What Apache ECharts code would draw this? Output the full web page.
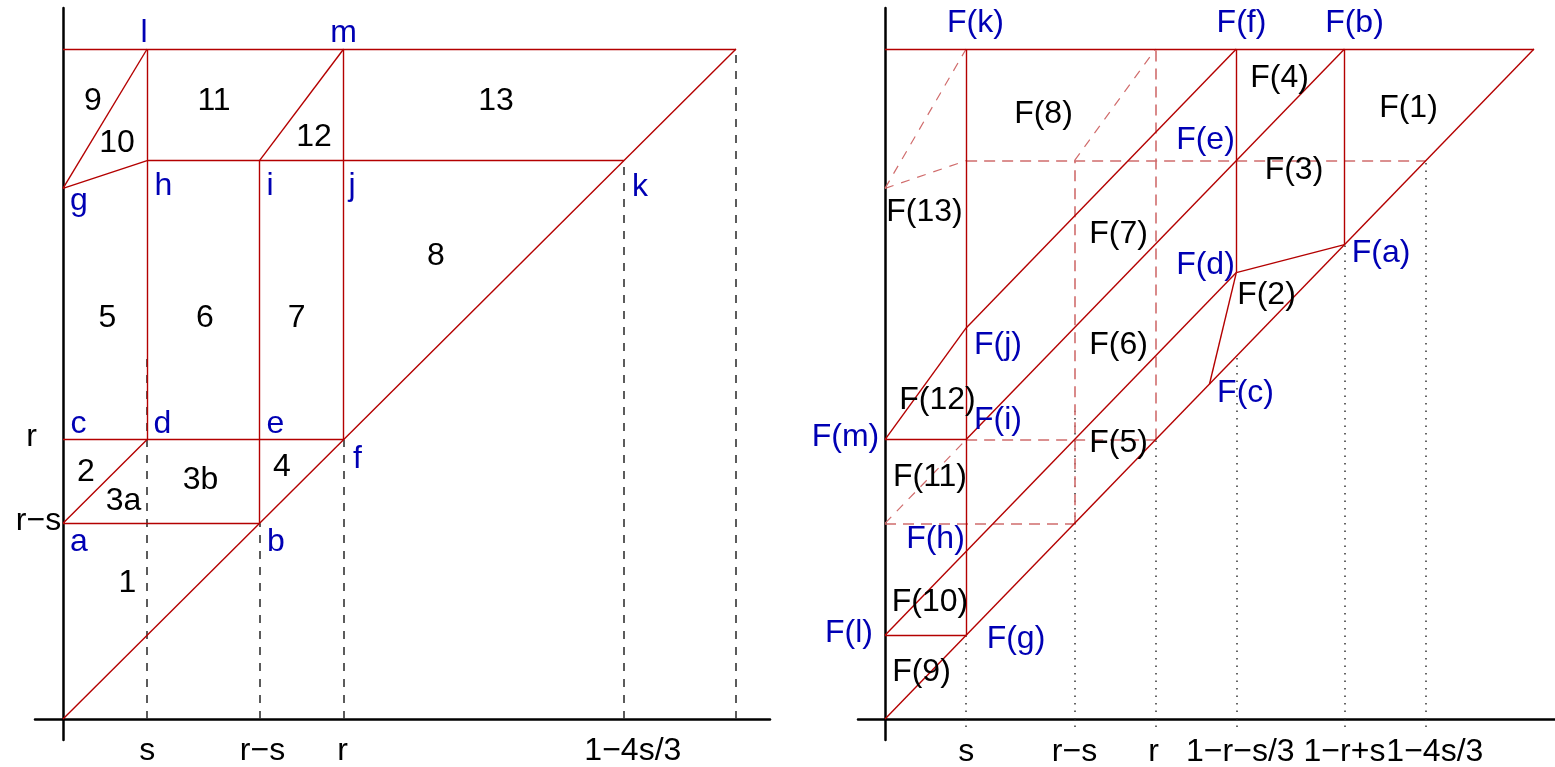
<!DOCTYPE html>
<html>
<head>
<meta charset="utf-8">
<script src="https://cdn.jsdelivr.net/npm/echarts@6/dist/echarts.min.js"></script>
<style>
  html, body { margin: 0; padding: 0; background: #fff; }
  #main { width: 1555px; height: 767px; }
</style>
</head>
<body>
<div id="main"></div>
<script>
// ---- parameters of the partition ----
const s = 0.125;
const r = 0.417;
const g = 0.792;              // height of point g on the vertical axis
const A = 1 - r - s / 3;      // 1-r-s/3
const B = 1 - r + s;          // 1-r+s
const C = 1 - 4 * s / 3;      // 1-4s/3
const Fc = 0.5;               // F(c) on the diagonal

// ---- left panel: region boundaries ----
const leftEdges = [
  [[0, 1], [1, 1]],                 // top edge through l, m
  [[0, 0], [1, 1]],                 // diagonal through b, f, k
  [[0, r - s], [r - s, r - s]],     // a-b
  [[0, r], [r, r]],                 // c-d-e-f
  [[0, r - s], [s, r]],             // a-d
  [[s, r], [s, 1]],                 // d-h-l
  [[r - s, r - s], [r - s, C]],     // b-e-i
  [[r, r], [r, 1]],                 // f-j-m
  [[s, C], [C, C]],                 // h-i-j-k
  [[0, g], [s, C]],                 // g-h
  [[0, g], [s, 1]],                 // g-l
  [[r - s, C], [r, 1]]              // i-m
];
const leftGuides = [
  [[s, 0], [s, 0.54]],
  [[r - s, 0], [r - s, r - s]],
  [[r, 0], [r, r]],
  [[C, 0], [C, C]],
  [[1, 0], [1, 1]]
];
const leftRegions = [
  ['1', 0.0958, 0.2022], ['2', 0.0342, 0.3679], ['3a', 0.0899, 0.3254],
  ['3b', 0.2043, 0.3567], ['4', 0.3254, 0.3754], ['5', 0.0661, 0.5978],
  ['6', 0.2110, 0.5978], ['7', 0.3470, 0.5978], ['8', 0.5542, 0.6910],
  ['9', 0.0446, 0.9216], ['10', 0.0802, 0.8590], ['11', 0.2244, 0.9216],
  ['12', 0.3730, 0.8687], ['13', 0.6434, 0.9216]
];
const leftVertices = [
  ['a', 0.0238, 0.2643], ['b', 0.3165, 0.2643], ['c', 0.0230, 0.4404],
  ['d', 0.1478, 0.4404], ['e', 0.3157, 0.4404], ['f', 0.4376, 0.3882],
  ['g', 0.0238, 0.7733], ['h', 0.1493, 0.7957], ['i', 0.3076, 0.7957],
  ['j', 0.4294, 0.7957], ['k', 0.8574, 0.7942], ['l', 0.1204, 1.0240],
  ['m', 0.4168, 1.0240]
];
const leftXTicks = [s, r - s, r, C];
const leftXTickLabels = ['s', 'r−s', 'r', '1−4s/3'];
const leftYTicks = [r - s, r];
const leftYTickLabels = ['r−s', 'r'];

// ---- right panel: images of the regions under F ----
const rightEdges = [
  [[0, 1], [1, 1]],                     // top edge
  [[0, 0], [1, 1]],                     // diagonal through F(g), F(c), F(a)
  [[0, s], [A, A + s]],                 // F(l) .. F(d)
  [[s, r], [B, 1]],                     // F(i) .. F(e) .. F(b)
  [[s, s + 1 - A], [A, 1]],             // F(j) .. F(f)
  [[0, r], [s, s + 1 - A]],             // F(m)-F(j)
  [[0, r], [s, r]],                     // F(m)-F(i)
  [[0, s], [s, s]],                     // F(l)-F(g)
  [[s, s], [s, 1]],                     // F(g) .. F(k)
  [[A, A + s], [A, 1]],                 // F(d) .. F(f)
  [[B, B], [B, 1]],                     // F(a) .. F(b)
  [[A, A + s], [B, B]],                 // F(d)-F(a)
  [[A, A + s], [Fc, Fc]]                // F(d)-F(c)
];
const rightTraceStraight = [
  [[0, r - s], [r - s, r - s]],
  [[s, r], [r, r]],
  [[r - s, r - s], [r - s, C]],
  [[r, r], [r, 1]],
  [[s, C], [C, C]]
];
const rightTraceSlanted = [
  [[0, r - s], [s, r]],
  [[0, g], [s, C]],
  [[0, g], [s, 1]],
  [[r - s, C], [r, 1]]
];
const rightGuides = [
  [[s, -0.012], [s, s]],
  [[r - s, -0.012], [r - s, 0.46]],
  [[r, -0.012], [r, r]],
  [[A, -0.012], [A, A]],
  [[B, -0.012], [B, B]],
  [[C, -0.012], [C, C]]
];
const rightRegions = [
  ['F(1)', 0.8066, 0.9119], ['F(2)', 0.5878, 0.6321], ['F(3)', 0.6302, 0.8194],
  ['F(4)', 0.6079, 0.9560], ['F(5)', 0.3598, 0.4119], ['F(6)', 0.3598, 0.5582],
  ['F(7)', 0.3598, 0.7239], ['F(8)', 0.2442, 0.9022], ['F(9)', 0.0562, 0.0694],
  ['F(10)', 0.0693, 0.1746], ['F(11)', 0.0693, 0.3612], ['F(12)', 0.0809, 0.4754],
  ['F(13)', 0.0609, 0.7567]
];
const rightVertices = [
  ['F(a)', 0.7643, 0.6948], ['F(b)', 0.7234, 1.0388], ['F(c)', 0.5555, 0.4858],
  ['F(d)', 0.4938, 0.6769], ['F(e)', 0.4938, 0.8634], ['F(f)', 0.5493, 1.0388],
  ['F(g)', 0.2018, 0.1194], ['F(h)', 0.0778, 0.2679], ['F(i)', 0.1741, 0.4463],
  ['F(j)', 0.1741, 0.5582], ['F(k)', 0.1394, 1.0388]
];
const rightXTicks = [s, r - s, r, A, B, C];
const rightXTickLabels = ['s', 'r−s', 'r', '1−r−s/3', '1−r+s', '1−4s/3'];
const rightYTicks = [s, r];
const rightYTickLabels = ['F(l)', 'F(m)'];

// ---- styling ----
const FONT = '"Liberation Sans", Arial, Helvetica, sans-serif';
const FS = 32;
const RED = '#b40000';
const RED_LIGHT = '#d06c6c';
const BLUE = '#0000b4';
const INK = '#000';

// pixel placement of tick texts relative to their tick (dx, dy)
const leftXTickShift = [[0, 32], [3, 32], [-1, 32], [9, 32]];
const leftYTickShift = [[-24.5, -2], [-31.5, -2]];
const rightXTickShift = [[0, 33], [0, 33], [-2, 33], [4, 33], [0, 33], [9, 33]];
const rightYTickShift = [[-36, -2], [-39.5, -2.6]];

function axisDef(gi, min, max) {
  return {
    type: 'value', gridIndex: gi, min: min, max: max,
    axisLine: { show: true, onZero: true, lineStyle: { color: '#000', width: 2.5 } },
    axisTick: { show: false }, splitLine: { show: false }, axisLabel: { show: false }
  };
}

function segs(list, gi, color, width, dash, z) {
  return {
    type: 'lines', coordinateSystem: 'cartesian2d',
    xAxisIndex: gi, yAxisIndex: gi, silent: true, z: z,
    lineStyle: { color: color, width: width, type: dash || 'solid', opacity: 1, curveness: 0 },
    data: list.map(c => ({ coords: c }))
  };
}
function textSeries(items, gi, color) {
  return {
    type: 'scatter', xAxisIndex: gi, yAxisIndex: gi, silent: true, z: 10,
    clip: false, symbolSize: 0,
    itemStyle: { color: 'rgba(0,0,0,0)', opacity: 1 },
    label: {
      show: true, position: 'inside', formatter: p => p.name, opacity: 1,
      align: 'center', verticalAlign: 'middle',
      fontSize: FS, fontFamily: FONT, color: color
    },
    data: items
  };
}
const placed = list => list.map(([t, x, y]) => ({ name: t, value: [x, y] }));
function tickItems(ticks, labels, shifts, onX) {
  return ticks.map((t, i) => ({
    name: labels[i],
    value: onX ? [t, 0] : [0, t],
    label: { offset: shifts[i] }
  }));
}

const chart = echarts.init(document.getElementById('main'), null, { renderer: 'canvas' });
chart.setOption({
  animation: false,
  backgroundColor: '#fff',
  grid: [
    { left: 35, top: 8, width: 735, height: 732, containLabel: false, outerBoundsMode: 'none' },
    { left: 858, top: 8, width: 697, height: 732, containLabel: false, outerBoundsMode: 'none' }
  ],
  xAxis: [
    axisDef(0, -28 / 673, 707 / 673),
    axisDef(1, -27 / 649, 670 / 649)
  ],
  yAxis: [
    axisDef(0, -21 / 670, 711 / 670),
    axisDef(1, -21 / 670, 711 / 670)
  ],
  series: [
    segs(leftGuides, 0, '#333', 1.6, [8, 8], 1),
    segs(leftEdges, 0, RED, 1.4, null, 3),
    textSeries(placed(leftRegions), 0, INK),
    textSeries(placed(leftVertices), 0, BLUE),
    textSeries(tickItems(leftXTicks, leftXTickLabels, leftXTickShift, true), 0, INK),
    textSeries(tickItems(leftYTicks, leftYTickLabels, leftYTickShift, false), 0, INK),

    segs(rightGuides, 1, '#333', 1.5, [1.5, 6], 1),
    segs(rightTraceStraight, 1, RED_LIGHT, 1.6, [11, 7], 2),
    segs(rightTraceSlanted, 1, RED_LIGHT, 1.2, [9, 8], 2),
    segs(rightEdges, 1, RED, 1.4, null, 3),
    textSeries(placed(rightRegions), 1, INK),
    textSeries(placed(rightVertices), 1, BLUE),
    textSeries(tickItems(rightXTicks, rightXTickLabels, rightXTickShift, true), 1, INK),
    textSeries(tickItems(rightYTicks, rightYTickLabels, rightYTickShift, false), 1, BLUE)
  ]
});
</script>
</body>
</html>
